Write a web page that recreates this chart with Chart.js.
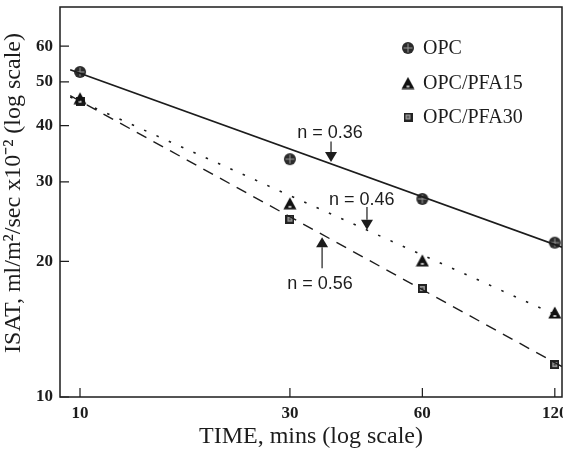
<!DOCTYPE html>
<html><head><meta charset="utf-8">
<script src="https://cdn.jsdelivr.net/npm/chart.js@4.4.1/dist/chart.umd.min.js"></script>
<style>html,body{margin:0;padding:0;background:#fff;}#wrap{width:563px;height:449px;position:relative;}</style>
</head><body><div id="wrap"><canvas id="c" width="563" height="449"></canvas></div>
<script>
// ---- data ----
const times = [10, 30, 60, 120];
const opc = [52.6, 33.7, 27.5, 22.0];
const pfa15 = [46.0, 26.9, 20.1, 15.4];
const pfa30 = [45.3, 24.8, 17.4, 11.8];
const fitTimes = [9.5, 124.6];
const opcFit = [53.2, 21.5];
const pfa15Fit = [46.3, 15.0];
const pfa30Fit = [46.6, 11.68];
const xTicks = [10, 30, 60, 120];
const yTicks = [10, 20, 30, 40, 50, 60];
const seriesNames = ['OPC', 'OPC/PFA15', 'OPC/PFA30'];
const nLabels = ['n = 0.36', 'n = 0.46', 'n = 0.56'];
// annotation anchors in data units
const noteTextX = [37.0, 43.7, 35.1];
const noteTextY = [38.5, 27.3, 17.8];
const arrowX = [37.2, 44.9, 35.5];
const arrowTail = [36.9, 26.4, 19.3];
const arrowTip = [33.2, 23.5, 22.6];

const SERIF = '"Liberation Serif", "Times New Roman", serif';
const SANS = '"Liberation Sans", Arial, sans-serif';
const INK = '#1c1c1c';

function mkCanvas(w, h) { const c = document.createElement('canvas'); c.width = w; c.height = h; return c; }
function circleMarker() {
  const c = mkCanvas(14, 14), g = c.getContext('2d');
  g.fillStyle = '#2b2b2b'; g.beginPath(); g.arc(7, 7, 6, 0, Math.PI * 2); g.fill();
  g.strokeStyle = '#9a9a9a'; g.lineWidth = 1;
  g.beginPath(); g.moveTo(7, 2.5); g.lineTo(7, 11.5); g.moveTo(2.5, 7); g.lineTo(11.5, 7); g.stroke();
  return c;
}
function triMarker() {
  const c = mkCanvas(14, 13), g = c.getContext('2d');
  g.fillStyle = '#111'; g.beginPath(); g.moveTo(7, 0.5); g.lineTo(13.5, 12.5); g.lineTo(0.5, 12.5); g.closePath(); g.fill();
  g.fillStyle = '#bbb'; g.fillRect(5.5, 9, 3, 2);
  return c;
}
function sqMarker() {
  const c = mkCanvas(9, 9), g = c.getContext('2d');
  g.fillStyle = '#222'; g.fillRect(0, 0, 9, 9);
  g.fillStyle = '#9a9a9a'; g.fillRect(2, 2, 5, 5);
  g.fillStyle = '#333'; g.fillRect(3.5, 3.5, 2, 2);
  return c;
}
const markers = [circleMarker(), triMarker(), sqMarker()];
const pts = (xs, ys) => xs.map((x, i) => ({ x: x, y: ys[i] }));

const decor = {
  id: 'decor',
  afterLayout(chart) {
    // nudge the y-axis title block slightly upward, as in the reference
    const y = chart.scales.y; y.top -= 9; y.bottom -= 9;
  },
  afterDraw(chart) {
    const g = chart.ctx, a = chart.chartArea, xs = chart.scales.x, ys = chart.scales.y;
    g.save();
    g.strokeStyle = INK; g.lineWidth = 1.5;
    g.strokeRect(a.left, a.top, a.right - a.left, a.bottom - a.top);
    g.lineWidth = 1.2; g.beginPath();
    xTicks.forEach(v => { const p = xs.getPixelForValue(v); g.moveTo(p, a.bottom); g.lineTo(p, a.bottom - 9); });
    yTicks.forEach(v => { const p = ys.getPixelForValue(v); g.moveTo(a.left, p); g.lineTo(a.left + 9, p); });
    g.stroke();
    g.font = '20px ' + SERIF; g.fillStyle = INK; g.textAlign = 'left'; g.textBaseline = 'middle';
    const ly = [48, 83, 117];
    seriesNames.forEach((n, i) => {
      const m = markers[i];
      g.drawImage(m, 408 - m.width / 2, ly[i] - m.height / 2);
      g.fillText(n, 423, ly[i] + 1);
    });
    g.font = '18px ' + SANS; g.textAlign = 'center';
    nLabels.forEach((t, i) => {
      g.fillStyle = INK;
      g.fillText(t, xs.getPixelForValue(noteTextX[i]), ys.getPixelForValue(noteTextY[i]));
      const x = xs.getPixelForValue(arrowX[i]);
      const y1 = ys.getPixelForValue(arrowTail[i]), y2 = ys.getPixelForValue(arrowTip[i]);
      const dir = Math.sign(y2 - y1), head = 10;
      g.strokeStyle = INK; g.lineWidth = 1.2;
      g.beginPath(); g.moveTo(x, y1); g.lineTo(x, y2 - dir * head); g.stroke();
      g.beginPath(); g.moveTo(x - 6, y2 - dir * head); g.lineTo(x + 6, y2 - dir * head); g.lineTo(x, y2); g.closePath(); g.fill();
    });
    g.restore();
  }
};

new Chart(document.getElementById('c'), {
  type: 'scatter',
  data: {
    datasets: [
      { label: seriesNames[0] + ' fit', data: pts(fitTimes, opcFit), showLine: true, borderColor: INK, borderWidth: 1.8, pointRadius: 0 },
      { label: seriesNames[1] + ' fit', data: pts(fitTimes, pfa15Fit), showLine: true, borderColor: INK, borderWidth: 1.6, borderDash: [2.5, 11], pointRadius: 0 },
      { label: seriesNames[2] + ' fit', data: pts(fitTimes, pfa30Fit), showLine: true, borderColor: INK, borderWidth: 1.4, borderDash: [11, 8], pointRadius: 0 },
      { label: seriesNames[0], data: pts(times, opc), pointStyle: markers[0], pointRadius: 7 },
      { label: seriesNames[1], data: pts(times, pfa15), pointStyle: markers[1], pointRadius: 7 },
      { label: seriesNames[2], data: pts(times, pfa30), pointStyle: markers[2], pointRadius: 5 }
    ]
  },
  options: {
    responsive: false, animation: false, devicePixelRatio: 1,
    layout: { autoPadding: false, padding: { top: 7, right: 1, left: 0, bottom: 0 } },
    plugins: { legend: { display: false }, tooltip: { enabled: false } },
    scales: {
      x: {
        type: 'logarithmic', position: 'bottom', min: 9.006, max: 124.6,
        afterBuildTicks: s => { s.ticks = xTicks.map(v => ({ value: v })); },
        afterFit: s => { s.height = 52; s.paddingLeft = 0; s.paddingRight = 0; },
        grid: { display: false, drawTicks: false }, border: { display: false },
        ticks: { callback: v => String(v), font: { family: SERIF, size: 17, weight: 'bold' }, color: INK, padding: 6, maxRotation: 0, autoSkip: false },
        title: { display: true, text: 'TIME, mins (log scale)', font: { family: SERIF, size: 24, lineHeight: 1 }, color: INK, padding: { top: 0, bottom: 0 } }
      },
      y: {
        type: 'logarithmic', position: 'left', min: 10, max: 73.3,
        afterBuildTicks: s => { s.ticks = yTicks.map(v => ({ value: v })); },
        afterFit: s => { s.width = 60; s.paddingTop = 0; s.paddingBottom = 0; },
        grid: { display: false, drawTicks: false }, border: { display: false },
        ticks: { callback: v => String(v), font: { family: SERIF, size: 17, weight: 'bold' }, color: INK, padding: 7, autoSkip: false },
        title: { display: true, text: 'ISAT, ml/m²/sec x10⁻² (log scale)', font: { family: SERIF, size: 24, lineHeight: 1 }, color: INK, padding: { top: 2, bottom: 0 } }
      }
    }
  },
  plugins: [decor]
});
</script></body></html>
